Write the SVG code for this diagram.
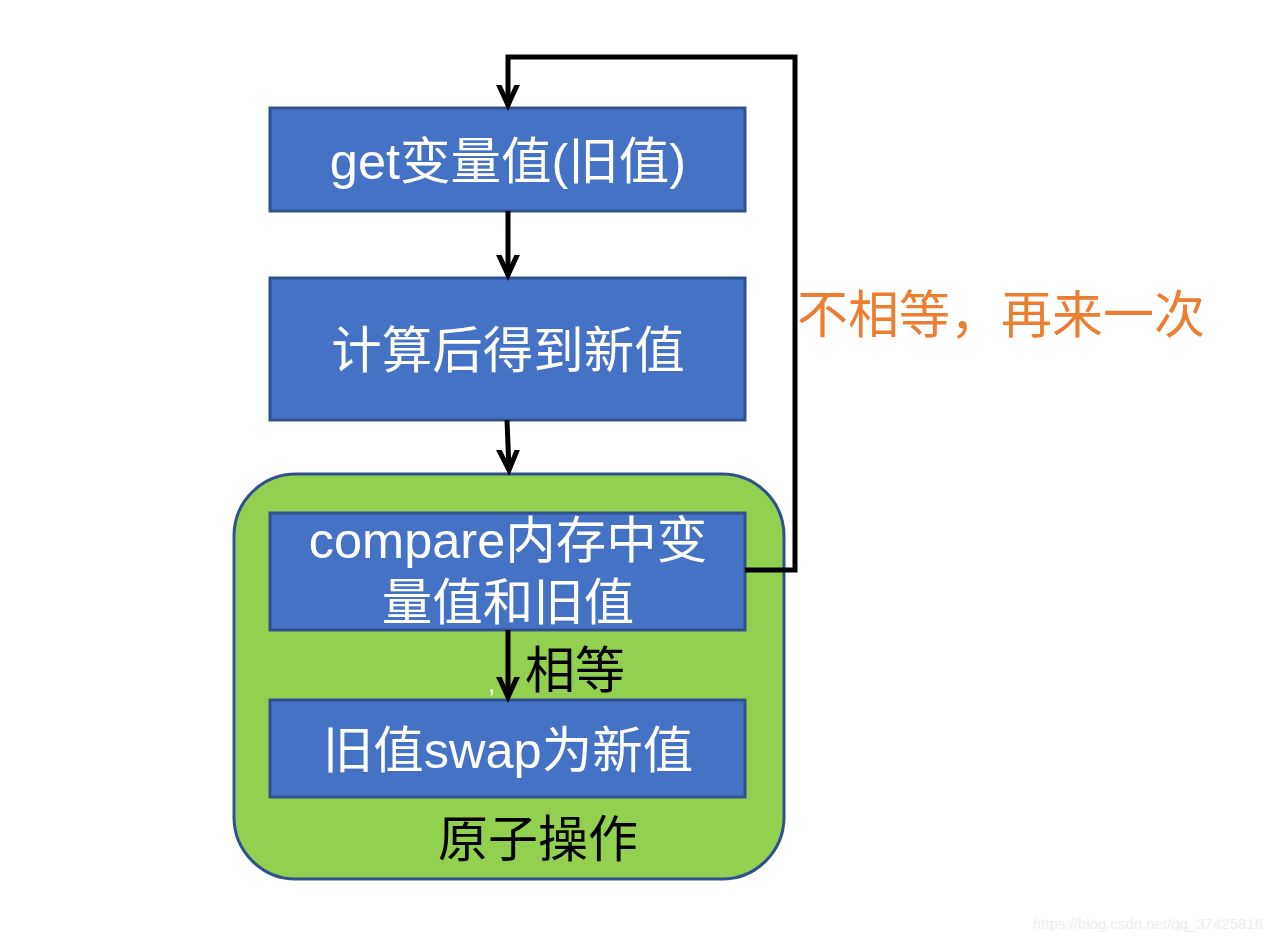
<svg xmlns="http://www.w3.org/2000/svg" width="1272" height="942" viewBox="0 0 1272 942">
<style>
.box{fill:#4472C4;stroke:#2F528F;stroke-width:3}
.wt{fill:#FFFFFF;font-family:"Liberation Sans","Noto Sans CJK SC",sans-serif;font-size:50.5px;text-anchor:middle}
.bt{fill:#000000;font-family:"Liberation Sans","Noto Sans CJK SC",sans-serif;font-size:50px}
.ln{fill:none;stroke:#000;stroke-width:5}
</style>
<defs>
<marker id="ah" markerUnits="userSpaceOnUse" markerWidth="40" markerHeight="40" viewBox="-20 -20 40 40" refX="0" refY="0" orient="auto">
<polyline points="-24,-11 0,0 -24,11" fill="none" stroke="#000" stroke-width="5"/>
</marker>
</defs>
<rect width="1272" height="942" fill="#FFFFFF"/>
<g id="atomic">
<rect x="234" y="474" width="550" height="405" rx="62" fill="#92D050" stroke="#2F528F" stroke-width="3"/>
<text class="bt" x="438" y="857">原子操作</text>
</g>
<g id="n1">
<rect class="box" x="270" y="108" width="475" height="103"/>
<text class="wt" x="508" y="179">get变量值(旧值)</text>
</g>
<g id="n2">
<rect class="box" x="270" y="278" width="475" height="142"/>
<text class="wt" x="508" y="368">计算后得到新值</text>
</g>
<g id="n3">
<rect class="box" x="270" y="513" width="475" height="117"/>
<text class="wt" x="508" y="558">compare内存中变</text>
<text class="wt" x="508" y="620">量值和旧值</text>
</g>
<g id="n4">
<rect class="box" x="270" y="700" width="475" height="97"/>
<text class="wt" x="508" y="768">旧值swap为新值</text>
</g>
<g id="connectors">
<line class="ln" x1="508" y1="211" x2="508" y2="275" marker-end="url(#ah)"/>
<line class="ln" x1="507" y1="420" x2="509" y2="470" marker-end="url(#ah)"/>
<line class="ln" x1="508" y1="630" x2="508" y2="697" marker-end="url(#ah)"/>
<polyline class="ln" points="745,570 795,570 795,57 508,57 508,105" marker-end="url(#ah)"/>
<text class="bt" x="525" y="688">相等</text>
<text x="488" y="692" fill="#FFFFFF" font-family="Liberation Sans,sans-serif" font-size="26">,</text>
<text x="797" y="333" fill="#ED7D31" font-family="Liberation Sans,'Noto Sans CJK SC',sans-serif" font-size="51">不相等，再来一次</text>
</g>
<text x="1263" y="929" fill="#EEEEEE" font-family="Liberation Sans,sans-serif" font-size="15" text-anchor="end">https://blog.csdn.net/qq_37425816</text>
</svg>
